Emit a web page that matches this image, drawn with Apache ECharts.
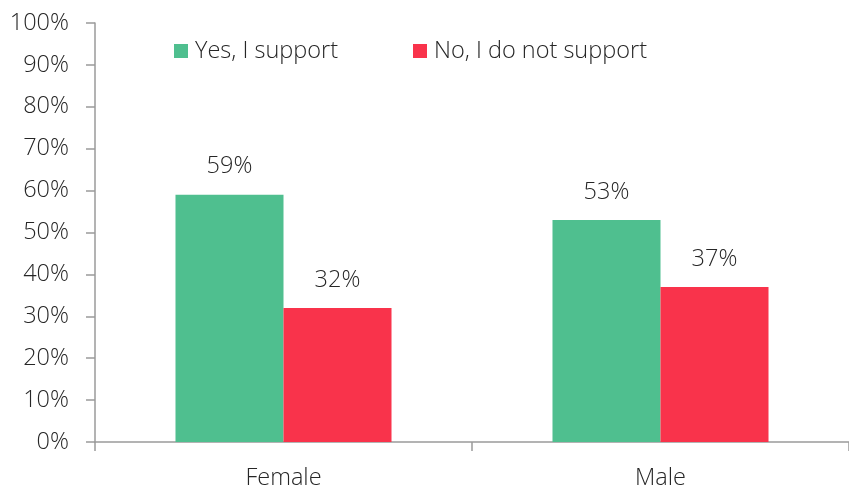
<!DOCTYPE html>
<html>
<head>
<meta charset="utf-8">
<style>
  html, body { margin: 0; padding: 0; background: #fff; }
  #chart { width: 849px; height: 490px; }
</style>
<script src="https://cdn.jsdelivr.net/npm/echarts@6/dist/echarts.min.js"></script>
</head>
<body>
<div id="chart"></div>
<script>
// Support by gender, in percent
const categories = ['Female', 'Male'];
const seriesNames = ['Yes, I support', 'No, I do not support'];
const yesValues = [59, 53];
const noValues = [32, 37];
const yTicks = [0, 10, 20, 30, 40, 50, 60, 70, 80, 90, 100];

const FONT = '"Open Sans", "Noto Sans", sans-serif';
const TEXT = '#262626';
const AXIS = '#9a9a9a';
const FS = 23.5;

const chart = echarts.init(document.getElementById('chart'), null, { renderer: 'canvas' });

const labelStyle = {
  show: true,
  position: 'top',
  distance: 16,
  formatter: p => p.value + '%',
  color: TEXT,
  fontFamily: FONT,
  fontWeight: 300,
  fontSize: FS
};

chart.setOption({
  animation: false,
  backgroundColor: '#ffffff',
  grid: { left: 95, right: 0, top: 23, bottom: 47, containLabel: false },
  legend: {
    data: seriesNames,
    top: 34,
    left: 169,
    itemWidth: 14,
    itemHeight: 14,
    itemGap: 75,
    icon: 'rect',
    textStyle: { color: TEXT, fontFamily: FONT, fontWeight: 300, fontSize: FS, padding: [0, 0, 0, 2] }
  },
  xAxis: {
    type: 'category',
    data: categories,
    axisLine: { lineStyle: { color: AXIS, width: 1.5 } },
    axisTick: { show: true, length: 9, alignWithLabel: false, lineStyle: { color: AXIS, width: 1.5 } },
    axisLabel: { color: TEXT, fontFamily: FONT, fontWeight: 300, fontSize: FS, margin: 24 }
  },
  yAxis: {
    type: 'value',
    min: yTicks[0],
    max: yTicks[yTicks.length - 1],
    interval: 10,
    axisLine: { show: true, lineStyle: { color: AXIS, width: 1.5 } },
    axisTick: { show: true, length: 9, lineStyle: { color: AXIS, width: 1.5 } },
    splitLine: { show: false },
    axisLabel: {
      color: TEXT, fontFamily: FONT, fontWeight: 300, fontSize: FS, margin: 26,
      formatter: v => v + '%'
    }
  },
  series: [
    {
      name: seriesNames[0],
      type: 'bar',
      data: yesValues,
      barGap: '0%',
      barCategoryGap: '42.7%',
      itemStyle: { color: '#4fbf8f' },
      label: labelStyle
    },
    {
      name: seriesNames[1],
      type: 'bar',
      data: noValues,
      itemStyle: { color: '#f9334b' },
      label: labelStyle
    }
  ]
});
</script>
</body>
</html>
